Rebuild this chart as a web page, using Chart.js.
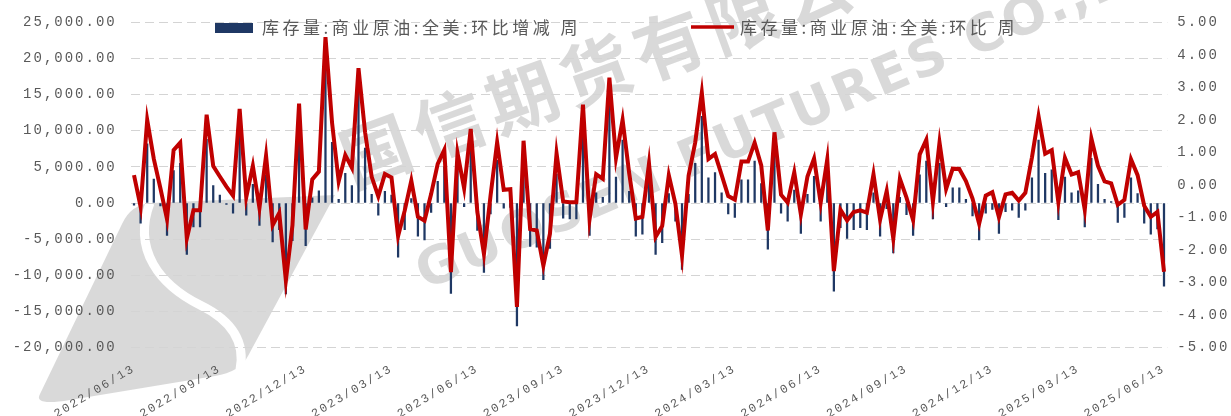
<!DOCTYPE html>
<html>
<head>
<meta charset="utf-8">
<script src="https://cdn.jsdelivr.net/npm/chart.js@4.4.1/dist/chart.umd.min.js"></script>
<style>
  html, body { margin: 0; padding: 0; background: #fff; }
  #wrap { width: 1231px; height: 416px; position: relative; }
</style>
</head>
<body>
<div id="wrap"><canvas id="graficoEstoque"></canvas></div>
<script>
// Rótulos do eixo X (um a cada 13 semanas)
const rotulosEixoX = ['2022/06/13', '2022/09/13', '2022/12/13', '2023/03/13', '2023/06/13', '2023/09/13',
    '2023/12/13', '2024/03/13', '2024/06/13', '2024/09/13', '2024/12/13', '2025/03/13', '2025/06/13'];

// Semanas (categorias)
const semanas = [];
for (let i = 0; i < 157; i++) {
    const d = new Date(Date.UTC(2022, 5, 17 + 7 * i));
    semanas.push(d.toISOString().slice(0, 10).replace(/-/g, '/'));
}

// 库存量:商业原油:全美:环比增减 周 (千桶)
const variacaoSemanal = [
    -300, -2800, 8200, 3300, -400, -4500, 4500, 5500, -7100, -3300,
    -3300, 8800, 2400, 1100, -200, -1400, 9900, -1700, 2600, -3100,
    3900, -5400, -3700, -12600, -5200, 10200, -5900, 700, 1700, 19000,
    8400, 500, 4100, 2400, 16300, 7600, 1200, -1700, 1600, 1100,
    -7500, -3700, 600, -4600, -5100, -1300, 3000, 5000, -12500, 4500,
    -500, 7900, -3800, -9600, -1500, 5900, -700, -600, -17000, 5900,
    -6000, -6100, -10600, -6300, 4000, -2100, -2200, -2200, 10200, -4500,
    1400, 800, 13900, 3600, 8700, 1600, -4600, -4300, 2900, -7100,
    -5500, 1300, -2500, -9200, 1200, 5500, 12000, 3500, 4200, 1400,
    -1500, -2000, 3200, 3200, 5800, 2700, -6400, 7300, -1400, -2500,
    1800, -4200, 1200, 3700, -2500, 3600, -12200, -3400, -4900, -3700,
    -3400, -3700, 1400, -4600, -800, -6900, 800, -1600, -4500, 3900,
    5800, -2200, 5500, -500, 2100, 2100, 500, -1800, -5100, -1400,
    -900, -4200, -1200, -1000, -2000, -1000, 3500, 8700, 4100, 4600,
    -2300, 3600, 1400, 1700, -3300, 6200, 2600, 500, 200, -2700,
    -2000, 3500, 1300, -2800, -4300, -3600, -11500
];

// 库存量:商业原油:全美:环比 周 (%)
const variacaoPercentual = [
    0.30, -0.67, 2.00, 0.80, -0.10, -1.05, 1.07, 1.30, -1.65, -0.78,
    -0.78, 2.16, 0.58, 0.26, -0.05, -0.33, 2.34, -0.38, 0.59, -0.71,
    0.90, -1.24, -0.86, -2.94, -1.24, 2.50, -1.37, 0.17, 0.41, 4.55,
    1.91, 0.11, 0.92, 0.53, 3.59, 1.62, 0.25, -0.35, 0.34, 0.23,
    -1.57, -0.79, 0.13, -0.98, -1.10, -0.28, 0.65, 1.08, -2.68, 0.98,
    -0.10, 1.72, -0.83, -2.12, -0.33, 1.31, -0.15, -0.13, -3.75, 1.36,
    -1.36, -1.40, -2.48, -1.50, 0.97, -0.51, -0.53, -0.53, 2.47, -1.05,
    0.33, 0.19, 3.30, 0.83, 2.00, 0.36, -1.03, -0.98, 0.66, -1.60,
    -1.26, 0.30, -0.58, -2.17, 0.29, 1.31, 2.84, 0.80, 0.95, 0.31,
    -0.34, -0.45, 0.72, 0.72, 1.30, 0.60, -1.40, 1.62, -0.30, -0.54,
    0.39, -0.91, 0.26, 0.81, -0.55, 0.79, -2.65, -0.76, -1.09, -0.83,
    -0.78, -0.85, 0.33, -1.07, -0.19, -1.65, 0.19, -0.39, -1.08, 0.94,
    1.39, -0.52, 1.31, -0.12, 0.50, 0.49, 0.12, -0.42, -1.19, -0.33,
    -0.22, -0.99, -0.29, -0.24, -0.48, -0.24, 0.85, 2.11, 0.96, 1.07,
    -0.53, 0.83, 0.32, 0.39, -0.76, 1.43, 0.59, 0.11, 0.05, -0.61,
    -0.46, 0.79, 0.30, -0.64, -0.98, -0.83, -2.67
];

const nomeBarras = '库存量:商业原油:全美:环比增减 周';
const nomeLinha = '库存量:商业原油:全美:环比 周';
const corBarras = '#1f3864';
const corLinha = '#c00000';
const corTexto = '#595959';
const corMarca = 'rgba(160,160,160,0.4)';

// Marca d'água (fundo)
const marcaDagua = {
    id: 'marcaDagua',
    beforeDraw(chart) {
        const ctx = chart.ctx;
        ctx.save();
        ctx.fillStyle = corMarca;
        // logotipo
        ctx.beginPath();
        ctx.moveTo(40, 394);
        ctx.lineTo(122, 224);
        ctx.quadraticCurveTo(131, 204, 152, 203);
        ctx.lineTo(335, 195);
        ctx.lineTo(248, 356);
        ctx.quadraticCurveTo(240, 372, 215, 376);
        ctx.lineTo(70, 400);
        ctx.quadraticCurveTo(33, 406, 40, 394);
        ctx.fill();
        ctx.strokeStyle = '#fff';
        ctx.lineWidth = 9;
        ctx.beginPath();
        ctx.moveTo(150, 203);
        ctx.bezierCurveTo(132, 250, 160, 285, 200, 305);
        ctx.bezierCurveTo(235, 322, 245, 345, 240, 370);
        ctx.stroke();
        // textos
        ctx.translate(352, 188);
        ctx.rotate(-20 * Math.PI / 180);
        ctx.font = 'bold 70px "Noto Sans CJK SC"';
        ctx.letterSpacing = '8px';
        ctx.fillText('国信期货有限公司', 0, 0);
        ctx.restore();
        ctx.save();
        ctx.fillStyle = corMarca;
        ctx.translate(425, 290);
        ctx.rotate(-23 * Math.PI / 180);
        ctx.font = 'bold 52px "DejaVu Sans"';
        ctx.letterSpacing = '3px';
        ctx.fillText('GUOSEN FUTURES CO.,LTD', 0, 0);
        ctx.restore();
        ctx.letterSpacing = '2px';
    }
};

// Legenda desenhada à mão
const legenda = {
    id: 'legenda',
    beforeDatasetsDraw(chart) {
        const ctx = chart.ctx;
        ctx.save();
        ctx.font = '17px "Noto Sans CJK SC"';
        ctx.letterSpacing = '3.5px';
        ctx.textBaseline = 'middle';
        ctx.fillStyle = corBarras;
        ctx.fillRect(215, 23, 38, 10);
        ctx.fillStyle = corTexto;
        ctx.fillText(nomeBarras, 262, 28);
        ctx.strokeStyle = corLinha;
        ctx.lineWidth = 3.5;
        ctx.beginPath();
        ctx.moveTo(691, 27);
        ctx.lineTo(734, 27);
        ctx.stroke();
        ctx.fillText(nomeLinha, 740, 28);
        ctx.restore();
    }
};

const fonteEixo = { family: '"Liberation Mono", monospace', size: 14 };

const grafico = new Chart(document.getElementById('graficoEstoque'), {
    type: 'bar',
    data: {
        labels: semanas,
        datasets: [
            {
                type: 'line',
                label: nomeLinha,
                data: variacaoPercentual,
                borderColor: corLinha,
                backgroundColor: corLinha,
                borderWidth: 4,
                pointRadius: 0,
                tension: 0,
                yAxisID: 'y1',
                order: 1
            },
            {
                type: 'bar',
                label: nomeBarras,
                data: variacaoSemanal,
                backgroundColor: corBarras,
                barThickness: 1.6,
                yAxisID: 'y',
                order: 2
            }
        ]
    },
    options: {
        responsive: true,
        maintainAspectRatio: false,
        animation: false,
        layout: { padding: { top: 18, left: 0, right: 0, bottom: 0 } },
        plugins: {
            legend: { display: false },
            tooltip: { enabled: false }
        },
        scales: {
            x: {
                offset: true,
                grid: { display: false },
                border: { display: false },
                ticks: {
                    autoSkip: false,
                    minRotation: 31,
                    maxRotation: 31,
                    padding: 6,
                    color: corTexto,
                    font: { family: '"Liberation Mono", monospace', size: 12 },
                    callback: (v, i) => (i % 13 === 0 ? rotulosEixoX[i / 13] : null)
                },
                afterFit: (s) => { s.height = 68.5; }
            },
            y: {
                position: 'left',
                min: -20000,
                max: 25000,
                grid: { color: '#d4d4d4', lineWidth: 1, drawTicks: false },
                border: { display: false, dash: [9, 5] },
                ticks: {
                    stepSize: 5000,
                    padding: 14,
                    color: corTexto,
                    font: fonteEixo,
                    callback: (v) => v.toLocaleString('en-US', { minimumFractionDigits: 2, maximumFractionDigits: 2 })
                },
                afterFit: (s) => { s.width = 130.7; }
            },
            y1: {
                position: 'right',
                min: -5,
                max: 5,
                grid: { display: false, drawTicks: false },
                border: { display: false },
                ticks: {
                    stepSize: 1,
                    padding: 10,
                    color: corTexto,
                    font: fonteEixo,
                    callback: (v) => v.toFixed(2)
                },
                afterFit: (s) => { s.width = 63.7; }
            }
        }
    },
    plugins: [marcaDagua, legenda]
});
</script>
</body>
</html>
